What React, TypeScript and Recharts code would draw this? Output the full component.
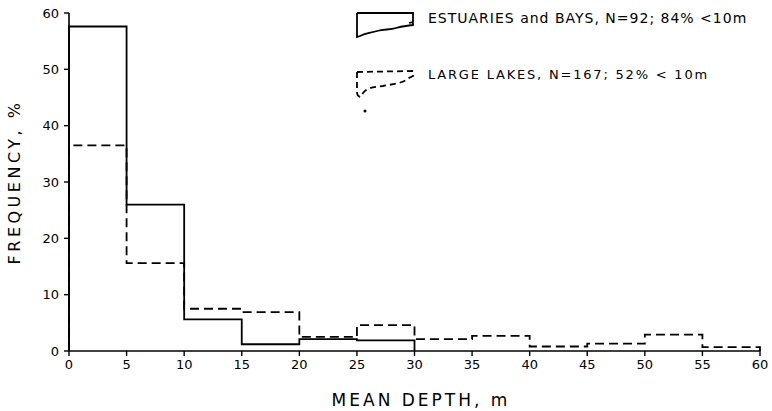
import React from "react";
import { LineChart, Line, XAxis, YAxis, Legend } from "recharts";

// Bin edges (mean depth, m)
const binStarts = [0, 5, 10, 15, 20, 25, 30, 35, 40, 45, 50, 55];
const xTicks = [0, 5, 10, 15, 20, 25, 30, 35, 40, 45, 50, 55, 60];
const yTicks = [0, 10, 20, 30, 40, 50, 60];

// Frequency (%) per 5 m bin
const estuariesPct = [57.6, 26.0, 5.6, 1.2, 2.1, 1.9];
const lakesPct = [36.5, 15.6, 7.5, 6.9, 2.5, 4.6, 2.1, 2.7, 0.8, 1.3, 2.9, 0.7];

const estuariesLabel = "ESTUARIES and BAYS, N=92; 84% <10m";
const lakesLabel = "LARGE LAKES, N=167; 52% < 10m";

const FONT = "'DejaVu Sans', sans-serif";

function stepData(values: number[]) {
  const pts: { x: number; y: number }[] = [{ x: 0, y: 0 }];
  values.forEach((v, i) => pts.push({ x: binStarts[i], y: v }));
  pts.push({ x: binStarts[values.length - 1] + 5, y: 0 });
  return pts;
}

const estuariesData = stepData(estuariesPct);
const lakesData = stepData(lakesPct);

const LegendContent = () => (
  <svg width={772} height={120} style={{ display: "block" }}>
    <path
      d="M357 13 L413 13 L413 22 L409 23 M357 13 L357 37 L360 36 C366 33 371 33 377 31 C384 29 390 30 396 28 C402 26 407 26 413 25 L413 22"
      fill="none"
      stroke="#000"
      strokeWidth={1.8}
    />
    <text x={428} y={23} fontFamily={FONT} fontSize={14} letterSpacing={1} fill="#000">
      {estuariesLabel}
    </text>
    <path
      d="M357 72 L413 71 L413 76 L409 78 C402 84 392 84 383 86 C374 87 368 87 363 93 L361 97 M357 72 L357 92 C357 95 359 97 361 97"
      fill="none"
      stroke="#000"
      strokeWidth={1.8}
      strokeDasharray="6 4"
    />
    <circle cx={365} cy={111} r={1.5} fill="#000" />
    <text x={428} y={79} fontFamily={FONT} fontSize={13} letterSpacing={1.8} fill="#000">
      {lakesLabel}
    </text>
  </svg>
);

const YLabel = (props: any) => {
  const vb = props.viewBox || { y: 13, height: 338 };
  const cy = vb.y + vb.height / 2;
  return (
    <text
      x={14}
      y={cy}
      transform={`rotate(-90, 14, ${cy})`}
      textAnchor="middle"
      dominantBaseline="central"
      fontFamily={FONT}
      fontSize={16}
      letterSpacing={3.5}
      fill="#000"
    >
      FREQUENCY, %
    </text>
  );
};

const XLabel = (props: any) => {
  const vb = props.viewBox || { x: 69, width: 691 };
  return (
    <text
      x={421}
      y={406}
      textAnchor="middle"
      fontFamily={FONT}
      fontSize={17}
      letterSpacing={3}
      fill="#000"
    >
      MEAN DEPTH, m
    </text>
  );
};

export default function App() {
  return (
    <div style={{ position: "absolute", left: 0, top: 0, background: "#fff" }}>
      <LineChart
        width={772}
        height={411}
        margin={{ top: 13, right: 12, left: 0, bottom: 0 }}
        style={{ fontFamily: FONT }}
      >
        <XAxis
          dataKey="x"
          type="number"
          domain={[0, 60]}
          ticks={xTicks}
          allowDuplicatedCategory={false}
          height={60}
          tickSize={5}
          tickMargin={4}
          axisLine={{ stroke: "#000", strokeWidth: 1.6 }}
          tickLine={{ stroke: "#000", strokeWidth: 1.4 }}
          tick={{ fill: "#000", fontSize: 13, fontFamily: FONT }}
          label={<XLabel />}
        />
        <YAxis
          type="number"
          domain={[0, 60]}
          ticks={yTicks}
          width={69}
          tickSize={5}
          tickMargin={5}
          axisLine={{ stroke: "#000", strokeWidth: 1.6 }}
          tickLine={{ stroke: "#000", strokeWidth: 1.4 }}
          tick={{ fill: "#000", fontSize: 13, fontFamily: FONT }}
          label={<YLabel />}
        />
        <Legend
          layout="horizontal"
          verticalAlign="middle"
          align="center"
          wrapperStyle={{ position: "absolute", left: 0, top: 0, width: 772, height: 120, pointerEvents: "none" }}
          content={<LegendContent />}
        />
        <Line
          data={lakesData}
          dataKey="y"
          type="stepAfter"
          stroke="#000"
          strokeWidth={1.8}
          strokeDasharray="9 5"
          dot={false}
          activeDot={false}
          isAnimationActive={false}
          name="Large lakes"
        />
        <Line
          data={estuariesData}
          dataKey="y"
          type="stepAfter"
          stroke="#000"
          strokeWidth={1.8}
          dot={false}
          activeDot={false}
          isAnimationActive={false}
          name="Estuaries and bays"
        />
      </LineChart>
    </div>
  );
}
